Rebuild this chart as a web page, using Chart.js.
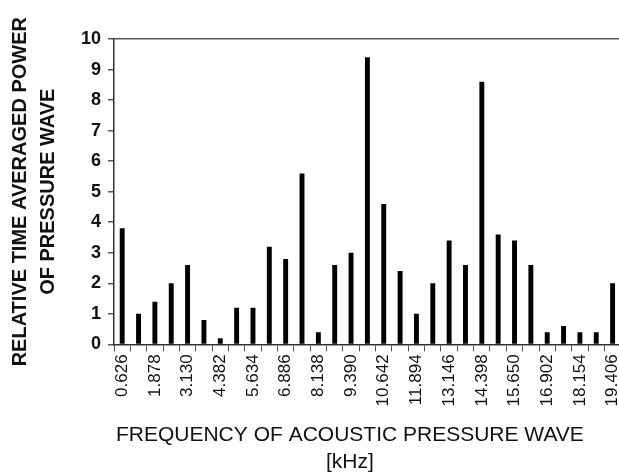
<!DOCTYPE html>
<html>
<head>
<meta charset="utf-8">
<script src="https://cdn.jsdelivr.net/npm/chart.js@4.4.0/dist/chart.umd.min.js"></script>
<style>
    html, body { margin: 0; padding: 0; background: #fff; overflow: hidden; }
    #wrap { width: 636px; height: 476px; }
</style>
</head>
<body>
<div id="wrap"><canvas id="chart1"></canvas></div>
<script>
// frequencies [kHz], one bar each
var freqs = ['0.626', '1.252', '1.878', '2.504', '3.130', '3.756', '4.382', '5.008',
    '5.634', '6.260', '6.886', '7.512', '8.138', '8.764', '9.390', '10.016',
    '10.642', '11.268', '11.894', '12.520', '13.146', '13.772', '14.398', '15.024',
    '15.650', '16.276', '16.902', '17.528', '18.154', '18.780', '19.406'];
// relative time averaged power
var power = [3.8, 1.0, 1.4, 2.0, 2.6, 0.8, 0.2, 1.2,
    1.2, 3.2, 2.8, 5.6, 0.4, 2.6, 3.0, 9.4,
    4.6, 2.4, 1.0, 2.0, 3.4, 2.6, 8.6, 3.6,
    3.4, 2.6, 0.4, 0.6, 0.4, 0.4, 2.0];
var yTitle = ['RELATIVE TIME AVERAGED POWER', 'OF PRESSURE WAVE'];
// trailing spaces nudge the centred title a bit left, like the original
var xTitle = ['FREQUENCY OF ACOUSTIC PRESSURE WAVE      ', '[kHz]      '];

var fontFam = "'Liberation Sans', Arial, sans-serif";

window.onload = function () {
    const ctx1 = document.getElementById('chart1');
    new Chart(ctx1, {
        type: 'bar',
        data: {
            labels: freqs,
            datasets: [{
                data: power,
                backgroundColor: '#000',
                borderWidth: 0,
                barPercentage: 0.6,
                categoryPercentage: 0.5
            }]
        },
        options: {
            responsive: true,
            maintainAspectRatio: false,
            animation: false,
            layout: { padding: { top: 39, right: 0, left: 0, bottom: 0 } },
            plugins: {
                legend: { display: false },
                tooltip: { enabled: false }
            },
            scales: {
                x: {
                    offset: true,
                    border: { display: true, color: '#333', width: 1.5 },
                    grid: {
                        offset: true,
                        color: 'transparent',
                        tickColor: '#555',
                        tickLength: 7
                    },
                    ticks: {
                        autoSkip: false,
                        maxRotation: 90,
                        minRotation: 90,
                        padding: 3,
                        color: '#111',
                        font: { family: fontFam, size: 17 },
                        callback: function (val, i) {
                            return i % 2 === 0 ? freqs[i] : '';
                        }
                    },
                    title: {
                        display: true,
                        text: xTitle,
                        color: '#111',
                        font: { family: fontFam, size: 21, lineHeight: 1.3 },
                        padding: { top: 12, bottom: 0 }
                    }
                },
                y: {
                    min: 0,
                    max: 10,
                    border: { display: true, color: '#333', width: 1.5 },
                    grid: {
                        color: function (c) {
                            return c.tick && c.tick.value === 10 ? '#555' : 'transparent';
                        },
                        lineWidth: 1.5,
                        tickColor: '#555',
                        tickLength: 6
                    },
                    ticks: {
                        stepSize: 1,
                        padding: 7,
                        color: '#111',
                        font: { family: fontFam, size: 18, weight: 'bold' }
                    },
                    title: {
                        display: true,
                        text: yTitle,
                        color: '#111',
                        font: { family: fontFam, size: 20, weight: 'bold', lineHeight: 1.4 },
                        padding: { top: 6, bottom: 12 }
                    }
                }
            }
        }
    });
};
</script>
</body>
</html>
